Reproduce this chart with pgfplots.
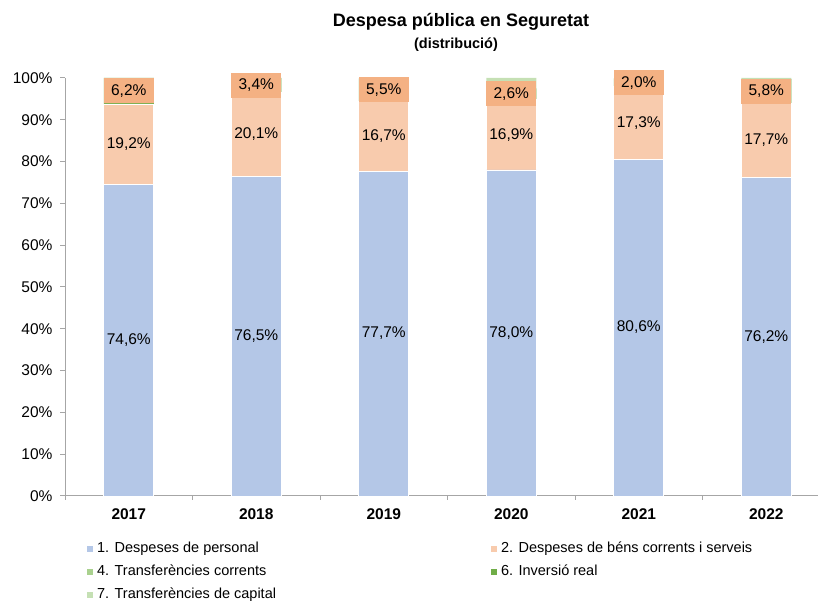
\documentclass[border=0pt]{standalone}
\usepackage{fontspec}
\setmainfont{Liberation Sans}
\usepackage{pgfplots}
\pgfplotsset{compat=1.18}
\definecolor{cPers}{HTML}{B4C7E7}
\definecolor{cBens}{HTML}{F8CBAD}
\definecolor{cLab}{HTML}{F4B183}
\definecolor{cTc}{HTML}{A9D18E}
\definecolor{cInv}{HTML}{70AD47}
\definecolor{cTk}{HTML}{C5E0B4}
\definecolor{cAx}{HTML}{A6A6A6}
\begin{document}
\begin{tikzpicture}[x=1pt,y=1pt]
\useasboundingbox (0,0) rectangle (818,601);
\begin{axis}[
  at={(65pt,105pt)}, anchor=south west,
  scale only axis, width=765pt, height=418pt,
  xmin=-0.5, xmax=5.5, ymin=0, ymax=100,
  ybar stacked, bar width=50pt,
  axis x line*=bottom, axis y line*=left,
  axis line style={-, cAx, line width=1pt},
  xtick={0,1,2,3,4,5},
  xticklabels={2017,2018,2019,2020,2021,2022},
  x tick label style={font=\bfseries\fontsize{15.5}{18}\selectfont, yshift=-4pt},
  major x tick style={draw=none},
  minor xtick={-0.5,0.5,1.5,2.5,3.5,4.5,5.5},
  minor tick length=4pt,
  ytick={0,10,20,30,40,50,60,70,80,90,100},
  yticklabel={\pgfmathprintnumber{\tick}\%},
  y tick label style={font=\fontsize{15.5}{18}\selectfont, xshift=-4pt},
  tick style={cAx, line width=1pt},
  major tick length=5pt,
  tick align=outside,
  /pgf/number format/assume math mode=true,
  legend columns=2,
  legend cell align=left,
  legend image code/.code={\fill[#1,draw=none] (0pt,-3pt) rectangle (6pt,3pt);},
  legend style={at={(axis description cs:0.0248,-0.1035)}, anchor=north west,
    draw=none, fill=none, font=\fontsize{14.5}{17}\selectfont,
    row sep=7.5pt,
    nodes={inner sep=1pt, text height=10.5pt, text depth=3pt},
    /tikz/every odd column/.append style={column sep=3pt},
    /tikz/every even column/.append style={column sep=214pt}},
]
\addplot[fill=cPers, draw=white, line width=0.8pt] coordinates {(0,74.6) (1,76.5) (2,77.7) (3,78.0) (4,80.6) (5,76.2)};
\addlegendentry{1. Despeses de personal}
\addplot[fill=cBens, draw=white, line width=0.8pt] coordinates {(0,19.2) (1,20.1) (2,16.7) (3,16.9) (4,17.3) (5,17.7)};
\addlegendentry{2. Despeses de béns corrents i serveis}
\addplot[fill=cTc, draw=none] coordinates {(0,0) (1,0) (2,0) (3,0) (4,0) (5,0)};
\addlegendentry{4. Transferències corrents}
\addplot[fill=cInv, draw=none] coordinates {(0,6.2) (1,3.4) (2,5.5) (3,2.6) (4,2.0) (5,5.8)};
\addlegendentry{6. Inversió real}
\addplot[fill=cTk, draw=none] coordinates {(0,0) (1,0) (2,0) (3,2.5) (4,0) (5,0.3)};
\addlegendentry{7. Transferències de capital}
\end{axis}
\begin{axis}[
  at={(65pt,105pt)}, anchor=south west,
  scale only axis, width=765pt, height=418pt,
  xmin=-0.5, xmax=5.5, ymin=0, ymax=100,
  hide axis, clip=false,
]
\addplot[draw=none, mark=none,
  nodes near coords, point meta=explicit symbolic,
  nodes near coords align={center},
  every node near coord/.append style={anchor=center, font=\fontsize{15.5}{18}\selectfont, text=black}]
  coordinates {(0,37.3) [{74,6\%}] (1,38.25) [{76,5\%}] (2,38.85) [{77,7\%}] (3,39.0) [{78,0\%}] (4,40.3) [{80,6\%}] (5,38.1) [{76,2\%}]
  (0,84.2) [{19,2\%}] (1,86.55) [{20,1\%}] (2,86.05) [{16,7\%}] (3,86.45) [{16,9\%}] (4,89.25) [{17,3\%}] (5,85.05) [{17,7\%}]};
\addplot[draw=none, mark=none,
  nodes near coords, point meta=explicit symbolic,
  nodes near coords align={center},
  every node near coord/.append style={anchor=center, font=\fontsize{15.5}{18}\selectfont, text=black,
    fill=cLab, minimum width=50pt, minimum height=25pt, inner sep=0pt}]
  coordinates {(0,96.9) [{6,2\%}] (1,98.3) [{3,4\%}] (2,97.15) [{5,5\%}] (3,96.2) [{2,6\%}] (4,98.9) [{2,0\%}] (5,96.8) [{5,8\%}]};
\end{axis}
\node[font=\bfseries\fontsize{18}{21}\selectfont] at (461,579) {Despesa pública en Seguretat};
\node[font=\bfseries\fontsize{14.5}{17}\selectfont] at (456,556) {(distribució)};
\end{tikzpicture}
\end{document}
